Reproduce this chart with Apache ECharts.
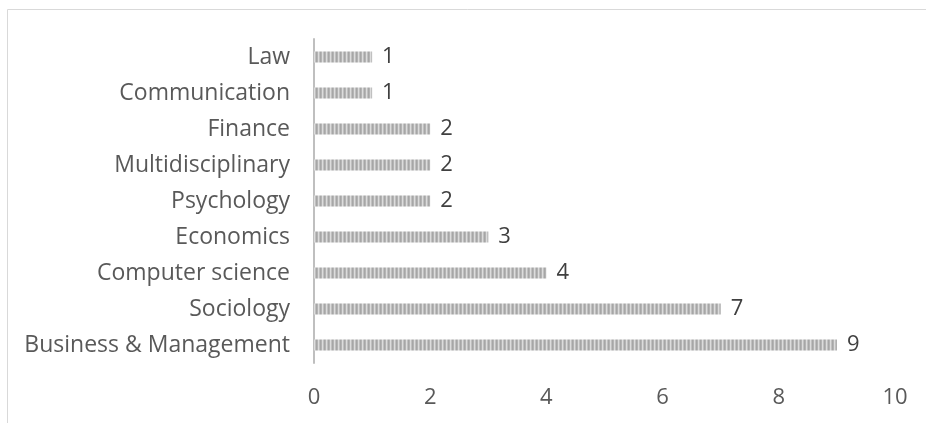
<!DOCTYPE html>
<html>
<head>
<meta charset="utf-8">
<script src="https://cdn.jsdelivr.net/npm/echarts@6/dist/echarts.min.js"></script>
<style>
  html, body { margin: 0; padding: 0; background: #fff; }
  #chart { width: 926px; height: 423px; }
</style>
</head>
<body>
<div id="chart"></div>
<script>
const categories = ['Law', 'Communication', 'Finance', 'Multidisciplinary', 'Psychology',
  'Economics', 'Computer science', 'Sociology', 'Business & Management'];
const counts = [1, 1, 2, 2, 2, 3, 4, 7, 9];
const xMin = 0, xMax = 10, xStep = 2;

// striped fill, like the dotted bars of the original
const stripe = document.createElement('canvas');
stripe.width = 4; stripe.height = 1;
const sc = stripe.getContext('2d');
['#a6a6a6', '#b4b4b4', '#dcdcdc', '#c0c0c0'].forEach((c, i) => {
  sc.fillStyle = c; sc.fillRect(i, 0, 1, 1);
});

const myChart = echarts.init(document.getElementById('chart'));
myChart.setOption({
  animation: false,
  textStyle: { fontFamily: '"Open Sans", "Noto Sans", sans-serif' },
  graphic: [{
    type: 'rect',
    shape: { x: 7.5, y: 9.5, width: 1000, height: 500 },
    style: { fill: 'none', stroke: '#d9d9d9', lineWidth: 1 },
    silent: true
  }],
  grid: { left: 314, right: 31, top: 39, bottom: 60 },
  xAxis: {
    type: 'value',
    min: xMin, max: xMax, interval: xStep,
    axisLine: { show: false },
    axisTick: { show: false },
    splitLine: { show: false },
    axisLabel: { fontSize: 22, color: '#595959', margin: 24 }
  },
  yAxis: {
    type: 'category',
    data: categories,
    inverse: true,
    axisTick: { show: false },
    axisLine: { show: true, lineStyle: { color: '#bfbfbf', width: 2 } },
    axisLabel: { fontSize: 23, color: '#595959', margin: 24 }
  },
  series: [{
    type: 'bar',
    data: counts,
    barWidth: 11,
    itemStyle: { color: { image: stripe, repeat: 'repeat' } },
    label: { show: true, position: 'right', distance: 10, fontSize: 22, color: '#404040' }
  }]
});
</script>
</body>
</html>
